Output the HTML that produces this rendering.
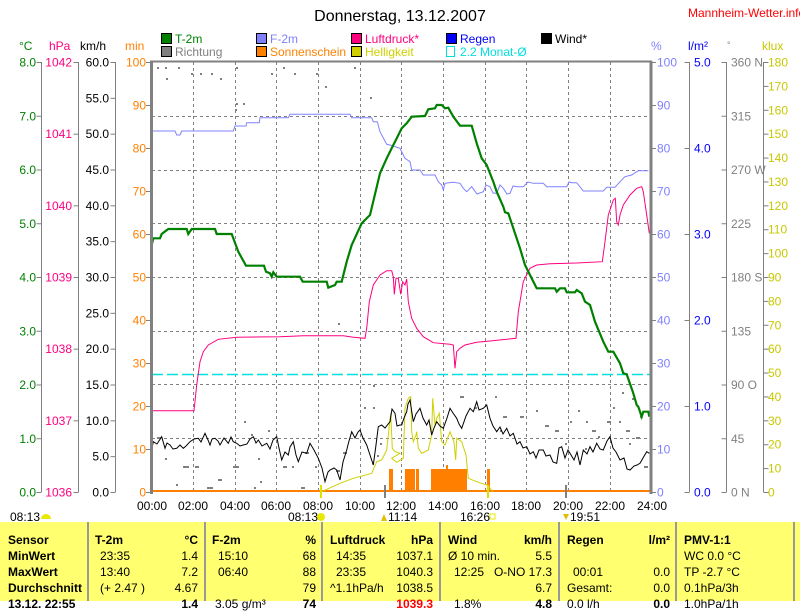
<!DOCTYPE html>
<html><head><meta charset="utf-8"><style>
body{margin:0;width:800px;height:601px;overflow:hidden;background:#fff;font-family:"Liberation Sans",sans-serif;position:relative}
svg{position:absolute;left:0;top:0}
.tb{position:absolute;left:0;top:522px;width:800px;height:79px;background:#ffff70}
.c{position:absolute;top:0;height:79px;border-right:2px solid #999}
.r{position:absolute;font-size:12px;white-space:nowrap}
.b{font-weight:bold}
</style></head><body>
<svg width="800" height="601" font-family="Liberation Sans, sans-serif" font-size="12">
<text x="400" y="21" text-anchor="middle" font-size="16">Donnerstag, 13.12.2007</text>
<text x="688" y="17" fill="#f00" font-size="12">Mannheim-Wetter.info</text>
<!-- legend -->
<g stroke="#000" stroke-width="1">
<rect x="161.5" y="33.5" width="10" height="10" fill="#008000"/>
<rect x="161.5" y="46.5" width="10" height="10" fill="#808080"/>
<rect x="256.5" y="33.5" width="10" height="10" fill="#8080ff"/>
<rect x="256.5" y="46.5" width="10" height="10" fill="#ff8000"/>
<rect x="351.5" y="33.5" width="10" height="10" fill="#ff0080"/>
<rect x="351.5" y="46.5" width="10" height="10" fill="#d0d000"/>
<rect x="446.5" y="33.5" width="10" height="10" fill="#0000ff"/>
<rect x="541.5" y="33.5" width="10" height="10" fill="#000"/>
</g>
<rect x="446.5" y="46.5" width="8" height="10" fill="none" stroke="#00e0e0"/>
<text x="175" y="43" fill="#008000">T-2m</text>
<text x="175" y="56" fill="#808080">Richtung</text>
<text x="270" y="43" fill="#8080ff">F-2m</text>
<text x="270" y="56" fill="#ff8000">Sonnenschein</text>
<text x="365" y="43" fill="#ff0080">Luftdruck*</text>
<text x="365" y="56" fill="#d0d000">Helligkeit</text>
<text x="460" y="43" fill="#0000ff">Regen</text>
<text x="460" y="56" fill="#00e0e0">2.2 Monat-Ø</text>
<text x="555" y="43">Wind*</text>
<!-- units -->
<text x="19" y="50" fill="#008000">°C</text>
<text x="49" y="50" fill="#ff0080">hPa</text>
<text x="80" y="50">km/h</text>
<text x="125" y="50" fill="#ff8000">min</text>
<text x="651" y="50" fill="#8080ff">%</text>
<text x="688" y="50" fill="#0000ff">l/m²</text>
<text x="727" y="48" fill="#808080" font-size="9">°</text>
<text x="762" y="50" fill="#c8c800">klux</text>
<!-- axis lines -->
<g stroke="#808080" stroke-width="1">
<line x1="41.5" y1="62" x2="41.5" y2="492"/>
<line x1="78.5" y1="62" x2="78.5" y2="492"/>
<line x1="115.5" y1="62" x2="115.5" y2="492"/>
<line x1="689.5" y1="62" x2="689.5" y2="492"/>
<line x1="726.5" y1="62" x2="726.5" y2="492"/>
<line x1="763.5" y1="62" x2="763.5" y2="492"/>
</g>
<g id="ticks" stroke="#808080"></g>
<!-- grid -->
<g stroke="#808080" stroke-dasharray="3,3" stroke-width="1">
<line x1="193.5" y1="62" x2="193.5" y2="492"/><line x1="235.5" y1="62" x2="235.5" y2="492"/>
<line x1="276.5" y1="62" x2="276.5" y2="492"/><line x1="318.5" y1="62" x2="318.5" y2="492"/>
<line x1="360.5" y1="62" x2="360.5" y2="492"/><line x1="401.5" y1="62" x2="401.5" y2="492"/>
<line x1="443.5" y1="62" x2="443.5" y2="492"/><line x1="485.5" y1="62" x2="485.5" y2="492"/>
<line x1="526.5" y1="62" x2="526.5" y2="492"/><line x1="568.5" y1="62" x2="568.5" y2="492"/>
<line x1="610.5" y1="62" x2="610.5" y2="492"/>
<line x1="152" y1="116.5" x2="651" y2="116.5"/><line x1="152" y1="170.5" x2="651" y2="170.5"/>
<line x1="152" y1="223.5" x2="651" y2="223.5"/><line x1="152" y1="277.5" x2="651" y2="277.5"/>
<line x1="152" y1="331.5" x2="651" y2="331.5"/><line x1="152" y1="384.5" x2="651" y2="384.5"/>
<line x1="152" y1="438.5" x2="651" y2="438.5"/>
</g>
<!-- direction dots -->
<g fill="#808080">
<rect x="157" y="67" width="2" height="2"/><rect x="165" y="67" width="2" height="2"/><rect x="178" y="67" width="2" height="2"/><rect x="166" y="78" width="2" height="2"/><rect x="191" y="73" width="2" height="2"/><rect x="200" y="73" width="2" height="2"/><rect x="211" y="73" width="2" height="2"/><rect x="220" y="78" width="2" height="2"/><rect x="236" y="103" width="2" height="2"/><rect x="243" y="103" width="2" height="2"/><rect x="236" y="67" width="2" height="2"/><rect x="271" y="73" width="2" height="2"/><rect x="283" y="67" width="2" height="2"/><rect x="294" y="73" width="2" height="2"/><rect x="316" y="73" width="2" height="2"/><rect x="325" y="86" width="2" height="2"/><rect x="370" y="97" width="2" height="2"/><rect x="354" y="67" width="2" height="2"/><rect x="235" y="109" width="2" height="2"/>
<rect x="157" y="437" width="4" height="2"/><rect x="165" y="458" width="2" height="2"/><rect x="183" y="466" width="6" height="2"/><rect x="176" y="484" width="2" height="2"/><rect x="195" y="466" width="4" height="2"/><rect x="207" y="487" width="6" height="2"/><rect x="218" y="479" width="4" height="2"/><rect x="244" y="421" width="2" height="2"/><rect x="251" y="434" width="2" height="2"/><rect x="233" y="466" width="6" height="2"/><rect x="260" y="481" width="2" height="2"/><rect x="254" y="487" width="2" height="2"/><rect x="268" y="430" width="2" height="2"/><rect x="258" y="458" width="2" height="2"/><rect x="283" y="466" width="4" height="2"/><rect x="292" y="466" width="2" height="2"/><rect x="301" y="487" width="4" height="2"/><rect x="305" y="452" width="4" height="2"/><rect x="315" y="466" width="2" height="2"/><rect x="336" y="470" width="4" height="2"/><rect x="343" y="452" width="4" height="2"/><rect x="338" y="323" width="2" height="2"/><rect x="364" y="407" width="2" height="2"/><rect x="373" y="385" width="2" height="2"/><rect x="373" y="407" width="2" height="2"/><rect x="380" y="443" width="2" height="2"/><rect x="377" y="455" width="2" height="2"/>
<rect x="460" y="396" width="4" height="2"/><rect x="475" y="407" width="2" height="2"/><rect x="495" y="396" width="2" height="2"/><rect x="503" y="416" width="4" height="2"/><rect x="500" y="430" width="2" height="2"/><rect x="520" y="416" width="4" height="2"/><rect x="536" y="410" width="2" height="2"/><rect x="545" y="425" width="4" height="2"/><rect x="555" y="430" width="4" height="2"/><rect x="570" y="421" width="2" height="2"/><rect x="578" y="410" width="2" height="2"/><rect x="586" y="421" width="2" height="2"/><rect x="592" y="430" width="4" height="2"/><rect x="598" y="436" width="2" height="2"/><rect x="607" y="421" width="4" height="2"/><rect x="613" y="407" width="2" height="2"/><rect x="619" y="421" width="2" height="2"/><rect x="626" y="430" width="4" height="2"/><rect x="636" y="437" width="4" height="2"/><rect x="622" y="392" width="2" height="2"/><rect x="632" y="398" width="2" height="2"/><rect x="640" y="416" width="2" height="2"/><rect x="644" y="466" width="4" height="2"/><rect x="629" y="443" width="2" height="2"/><rect x="585" y="448" width="2" height="2"/><rect x="565" y="443" width="2" height="2"/>
</g>
<!-- sunshine bars -->
<g fill="#ff8000">
<rect x="389" y="469" width="4" height="23"/><rect x="405" y="469" width="10" height="23"/><rect x="416" y="469" width="3" height="23"/><rect x="431" y="469" width="16" height="23"/><rect x="446" y="465" width="2" height="27"/><rect x="448" y="469" width="19" height="23"/><rect x="487" y="469" width="3" height="23"/>
</g>
<line x1="152" y1="491" x2="651" y2="491" stroke="#ff8000" stroke-width="2"/>
<!-- cyan dashed -->
<line x1="152" y1="374.5" x2="651" y2="374.5" stroke="#00e0e0" stroke-width="1.5" stroke-dasharray="11,4"/>
<!-- brightness -->
<polyline fill="none" stroke="#d0d000" stroke-width="1" points="321.7,491.7 340,483.3 353.3,478.3 371.7,473.3 376.7,461.7 381.7,460 386.7,450 390.7,413.3 392.3,448.3 395,451.7 400,453.3 391.7,458.3 396.7,462.3 403.3,458.3 405,408.3 408.3,398.3 410.7,396.7 411.7,431.7 413.3,441.7 416,435 416.7,431.7 418.3,448.3 421.7,453.3 428.3,450 431.7,435 432.7,398.3 435,425 436.7,418.3 439.3,413.3 441.7,441.7 445,445 450,431.7 454,441.7 455.7,460 456.7,438.3 461.7,441.7 466,455 468.3,478.3 476.7,481.7 486.7,485 493.3,491.7"/>
<!-- wind -->
<polyline fill="none" stroke="#000" stroke-width="1" points="151.7,450 153.3,441.7 157,444 161.7,436.7 165,448.3 167,443 170,445 173,449 176.7,448.3 180,445 183.3,448.3 186,446 190,441.7 194,439 198.3,438.3 201,442 205,433.3 208,440 210,445 212,439 215,438.3 218,441 220,445 224,438 228.3,443.3 231,437 233.3,441.7 236.7,443.3 240,446 243.3,445 247,444 250,439 253.3,436.7 256,443 258.3,440 262,446 266.7,443.3 270,449 273,440 276.7,436.7 279,448 281.7,460 285,452 288.3,455 290,447 293.3,441.7 296,455 298.3,461.7 302,452 306.7,453.3 310,443.3 314,450 318.3,458.3 322,468 325,481.7 328,472 330,470 334,468 336.7,470 340,480 343,462 346.7,450 349,441 351.7,431.7 355,438 358,432 360,430 363,438 366.7,445 370,455 373.3,465 376,445 378.3,426.7 381.7,425 385,428 390,421.7 392,409 395,413.3 397,426 400,425 401.7,425 404,418 406.7,411.7 408,404 410,400 413.3,421.7 416,414 420,408.3 423,418 426.7,425 429,420 431.7,435 434,428 436.7,421.7 440,426 443.3,428.3 447,418 450,408.3 453,413 456.7,418.3 459,424 461.7,428.3 466,416 470,408.3 473.3,411.7 476.7,401.7 479,410 483.3,408.3 486.7,405 490,418.3 493,426 496.7,431.7 500,427 503,434 506.7,428.3 510,436 513.3,433.3 517,444 520,441.7 523,448 526.7,446.7 530,454 533.3,451.7 536,458 539,450 543.3,450 546,456 550,455 553,462 556.7,463.3 559,448 561.7,446.7 565,458 568,450 570,453.3 574,460 577,452 580,465 583.3,450 587,454 590,446.7 593,452 596.7,443.3 600,449 603.3,450 607,441 610,436.7 613,448 616,452 620,460 624,458 627,469 630,470 634,466 637,465 640,463.3 643,458 646.7,451.7 649.3,453.3"/>
<!-- humidity -->
<polyline fill="none" stroke="#8080ff" stroke-width="1" points="151.7,131 175,131 176.7,135 180,135 181.7,131 233.3,131 235,126 246,126 246.7,122.7 259.3,122.7 260,117.7 288.3,117.7 290,114.3 350,114.3 351.7,117.7 371.7,117.7 373.3,121.7 377.3,121.7 380,131.7 386.7,144.3 390,145 400,148.3 405,158.3 410,161.7 411.7,170 420,170 423.3,175 435,175 438.3,181.7 441.7,185 443.3,190 445,183.3 453.3,182.3 460,183.3 463.3,188.3 466.7,191.7 471.7,186.7 477,194 483.3,191.7 486,185 490,186.7 493,193 496.7,193.3 500,185 503.3,188.3 507,194 510,193.3 513,186 516.7,186.7 523.3,186.7 528,182 533.3,183.3 543.3,183.3 546.7,186.7 566.7,186.7 569,182 571.7,182.7 576.7,182.7 583.3,191 603.3,191 606.7,187.3 615,187.3 620,181.7 625,176.7 631.7,175 638.3,170.7 648.3,170.7"/>
<!-- pressure -->
<polyline fill="none" stroke="#ff0080" stroke-width="1" points="151.7,410.7 194,410.7 196.7,385 200,361.7 203.3,351.7 208.3,345 218.3,339.3 236.7,337.3 280,336.7 303.3,335.7 343.3,335.7 353.3,337.3 365,338.3 366.7,328.3 369.3,301.7 373.3,285 380,275 386.7,270.7 391.7,270.7 393.3,276.7 394.3,294.3 396,278.3 398.3,278.3 400.7,294.3 402.7,281.7 405,285 406.7,279 408.3,301.7 411.7,318.3 416.7,328.3 423.3,336.7 433.3,342.7 450,344.3 453.3,345 455,368.3 456.7,351.7 460,348.3 465,345 476.7,342.3 490,341 516,338.3 518.3,311.7 523.3,281.7 530,268.3 536.7,265 550,263.7 576.7,263 602.3,261.7 605,241.7 608.3,215 613.3,200 615.3,198.3 616.7,221.7 618.3,225 620,215 623.3,205 630,195 636.7,188.3 641.7,186.7 643.3,191.7 646.7,215 649.3,233.3"/>
<!-- temperature -->
<polyline fill="none" stroke="#008000" stroke-width="2.2" points="151.7,245 153.3,238.3 160,238.3 161.7,234 168.3,229 186.7,229 188.3,234 191.7,229 215,229 216.7,234 231.7,234 238.3,251.7 246,265.7 264,265.7 266,271.7 270,273.3 271.7,276.7 273.3,272.3 276.7,276.7 300,276.7 302.7,281.7 326.7,281.7 328.3,287.7 335,285 336.7,281.7 341.7,281.7 346.7,261.7 351.7,245 361.7,223.3 370,215 380,173.3 386.7,158.3 393.3,145 395,141.7 401.7,128.3 406.7,123.3 411.7,116.7 425,116 428.3,109.3 435,108.3 436.7,105 441.7,105 445,108.3 448.3,107.7 453.3,116.7 460,125.7 471.7,125.7 476.7,143.3 481.7,158.3 486.7,165 493.3,181.7 496.7,191.7 503.3,206.7 505,212.3 508.3,213.3 515,233.3 520,248.3 525,265 530,275 536.7,288.3 555,288.3 556.7,291.7 560,288.3 565,288.3 566.7,292.3 575,292.3 576.7,290 581.7,293.3 585,301.7 590,305 595,321.7 603.3,341.7 608.3,351.7 613.3,351.7 620,363.3 623.3,373.3 626.7,374.3 633.3,393.3 636.7,405 638.3,406.7 641.7,416.7 643.3,411.7 648.3,411.7 649.3,416.7"/>
<!-- frame -->
<line x1="151.5" y1="61" x2="151.5" y2="494" stroke="#808080" stroke-width="3"/>
<line x1="651" y1="61" x2="651" y2="494" stroke="#808080" stroke-width="3"/>
<line x1="150" y1="61.5" x2="652" y2="61.5" stroke="#808080" stroke-width="2"/>
<!-- bottom time markers -->
<line x1="321" y1="485" x2="321" y2="498" stroke="#e0e000" stroke-width="2"/>
<line x1="488" y1="485" x2="488" y2="498" stroke="#e0e000" stroke-width="2"/>
<line x1="385" y1="485" x2="385" y2="498" stroke="#808080" stroke-width="2"/>
<line x1="566" y1="485" x2="566" y2="498" stroke="#808080" stroke-width="2"/>
<g font-size="12" text-anchor="middle">
<text x="152" y="510">00:00</text><text x="193" y="510">02:00</text><text x="235" y="510">04:00</text><text x="276" y="510">06:00</text><text x="318" y="510">08:00</text><text x="360" y="510">10:00</text><text x="401" y="510">12:00</text><text x="443" y="510">14:00</text><text x="485" y="510">16:00</text><text x="526" y="510">18:00</text><text x="568" y="510">20:00</text><text x="610" y="510">22:00</text><text x="652" y="510">24:00</text>
</g>
<g font-size="12">
<text x="10" y="521">08:13</text><path d="M41,519 a5,5 0 0 1 10,0 z" fill="#e8e800"/>
<text x="288" y="521">08:13</text><circle cx="321" cy="517" r="4" fill="#e8e800"/>
<text x="388" y="521">11:14</text><path d="M384,514 l3,7 h-6z" fill="#e0c000"/>
<text x="460" y="521">16:26</text><rect x="490" y="514" width="5" height="5" fill="none" stroke="#e8e800"/>
<text x="570" y="521">19:51</text><path d="M563,514 h6 l-3,6z" fill="#e0c000"/>
</g>
<g id="lab" font-size="12"></g>
</svg>
<script>
var s='',t='',sv=document.querySelector('svg');
function L(x,anchor,col,vals,top,bot,ax,dir){var n=vals.length-1;vals.forEach(function(v,i){var y=top+(bot-top)*i/n;s+='<text x="'+x+'" y="'+(y+4.5)+'" text-anchor="'+anchor+'" fill="'+col+'">'+v+'</text>';t+='<line x1="'+ax+'" y1="'+(y+.5)+'" x2="'+(ax+dir*5)+'" y2="'+(y+.5)+'"/>';});}
L(36,'end','#008000',['8.0','7.0','6.0','5.0','4.0','3.0','2.0','1.0','0.0'],62,492,41.5,-1);
L(72,'end','#ff0080',['1042','1041','1040','1039','1038','1037','1036'],62,492,78.5,-1);
L(109,'end','#000',['60.0','55.0','50.0','45.0','40.0','35.0','30.0','25.0','20.0','15.0','10.0','5.0','0.0'],62,492,115.5,-1);
L(146,'end','#ff8000',['100','90','80','70','60','50','40','30','20','10','0'],62,492,151,-1);
L(657,'start','#8080ff',['100','90','80','70','60','50','40','30','20','10','0'],62,492,651,1);
L(694,'start','#0000ff',['5.0','4.0','3.0','2.0','1.0','0.0'],62,492,684.5,1);
L(731,'start','#808080',['360 N','315','270 W','225','180 S','135','90 O','45','0 N'],62,492,721.5,1);
L(768,'start','#c8c800',['180','170','160','150','140','130','120','110','100','90','80','70','60','50','40','30','20','10','0'],62,492,763.5,1);
document.getElementById('lab').innerHTML=s;document.getElementById('ticks').innerHTML=t;
</script>
<div class="tb">
<div class="c" style="left:0;width:87px"></div><div class="c" style="left:89px;width:115px"></div><div class="c" style="left:206px;width:115px"></div><div class="c" style="left:323px;width:116px"></div><div class="c" style="left:441px;width:117px"></div><div class="c" style="left:560px;width:115px"></div><div class="c" style="left:677px;width:116px"></div>
<div class="r b" style="left:8px;top:11px">Sensor</div><div class="r b" style="left:8px;top:27px">MinWert</div><div class="r b" style="left:8px;top:43px">MaxWert</div><div class="r b" style="left:8px;top:59px">Durchschnitt</div><div class="r b" style="left:8px;top:75px">13.12. 22:55</div>
<div class="r b" style="left:95px;top:11px">T-2m</div><div class="r b" style="right:602px;top:11px">°C</div>
<div class="r" style="left:100px;top:27px">23:35</div><div class="r" style="right:602px;top:27px">1.4</div>
<div class="r" style="left:100px;top:43px">13:40</div><div class="r" style="right:602px;top:43px">7.2</div>
<div class="r" style="left:100px;top:59px">(+ 2.47 )</div><div class="r" style="right:602px;top:59px">4.67</div><div class="r b" style="right:602px;top:75px">1.4</div>
<div class="r b" style="left:212px;top:11px">F-2m</div><div class="r b" style="right:484px;top:11px">%</div>
<div class="r" style="left:218px;top:27px">15:10</div><div class="r" style="right:484px;top:27px">68</div>
<div class="r" style="left:218px;top:43px">06:40</div><div class="r" style="right:484px;top:43px">88</div>
<div class="r" style="right:484px;top:59px">79</div><div class="r" style="left:215px;top:75px">3.05 g/m³</div><div class="r b" style="right:484px;top:75px">74</div>
<div class="r b" style="left:330px;top:11px">Luftdruck</div><div class="r b" style="right:367px;top:11px">hPa</div>
<div class="r" style="left:336px;top:27px">14:35</div><div class="r" style="right:367px;top:27px">1037.1</div>
<div class="r" style="left:336px;top:43px">23:35</div><div class="r" style="right:367px;top:43px">1040.3</div>
<div class="r" style="left:330px;top:59px">^1.1hPa/h</div><div class="r" style="right:367px;top:59px">1038.5</div><div class="r b" style="right:367px;top:75px;color:#f00">1039.3</div>
<div class="r b" style="left:448px;top:11px">Wind</div><div class="r b" style="right:248px;top:11px">km/h</div>
<div class="r" style="left:448px;top:27px">Ø 10 min.</div><div class="r" style="right:248px;top:27px">5.5</div>
<div class="r" style="left:454px;top:43px">12:25</div><div class="r" style="right:248px;top:43px">O-NO 17.3</div>
<div class="r" style="right:248px;top:59px">6.7</div><div class="r" style="left:454px;top:75px">1.8%</div><div class="r b" style="right:248px;top:75px">4.8</div>
<div class="r b" style="left:567px;top:11px">Regen</div><div class="r b" style="right:130px;top:11px">l/m²</div>
<div class="r" style="left:573px;top:43px">00:01</div><div class="r" style="right:130px;top:43px">0.0</div>
<div class="r" style="left:567px;top:59px">Gesamt:</div><div class="r" style="right:130px;top:59px">0.0</div><div class="r" style="left:567px;top:75px">0.0 l/h</div><div class="r b" style="right:130px;top:75px">0.0</div>
<div class="r b" style="left:684px;top:11px">PMV-1:1</div>
<div class="r" style="left:684px;top:27px">WC 0.0 °C</div><div class="r" style="left:684px;top:43px">TP -2.7 °C</div><div class="r" style="left:684px;top:59px">0.1hPa/3h</div><div class="r" style="left:684px;top:75px">1.0hPa/1h</div>
</div>
</body></html>
